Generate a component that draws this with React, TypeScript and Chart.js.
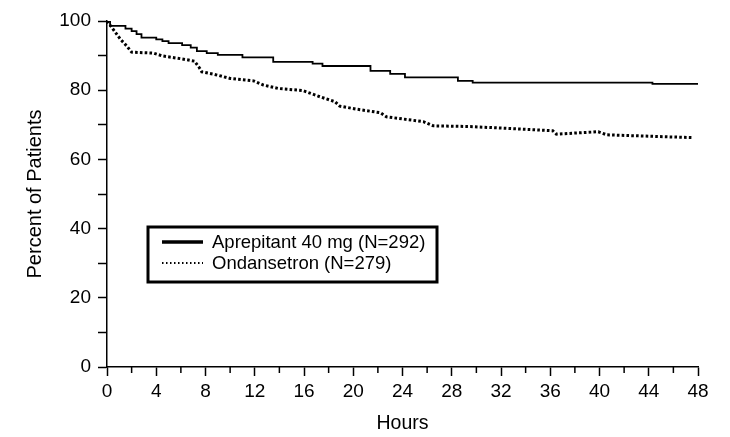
import React, { useEffect, useRef } from "react";
import { Chart, registerables } from "chart.js";

Chart.register(...registerables);

// Data
const aprepitantLabel = "Aprepitant 40 mg (N=292)";
const aprepitantHours = [0, 0.25, 1.5, 2.0, 2.4, 2.8, 4.0, 4.5, 5.0, 6.1, 6.8, 7.3, 8.1, 9.0, 11.0, 13.5, 16.7, 17.5, 21.4, 23.0, 24.2, 28.5, 29.7, 44.3, 48];
const aprepitantPct = [100, 98.6, 97.8, 97.1, 96.2, 95.2, 94.7, 94.2, 93.6, 93.0, 92.3, 91.3, 90.7, 90.2, 89.5, 88.2, 87.7, 87.0, 85.6, 84.7, 83.7, 82.7, 82.2, 81.8, 81.8];

const ondansetronLabel = "Ondansetron (N=279)";
const ondansetronHours = [0, 0.6, 1.1, 1.6, 2.0, 3.8, 4.5, 6.0, 7.1, 7.5, 7.7, 8.7, 10.0, 11.9, 12.7, 13.9, 15.9, 17.3, 18.5, 18.9, 20.3, 22.2, 22.7, 25.7, 26.5, 29.5, 36.2, 36.5, 39.9, 40.6, 47.5];
const ondansetronPct = [100, 97.1, 94.7, 92.8, 91.0, 90.7, 89.9, 89.1, 88.4, 86.5, 85.3, 84.6, 83.4, 82.7, 81.5, 80.5, 79.9, 78.1, 76.7, 75.4, 74.5, 73.5, 72.3, 70.9, 69.7, 69.5, 68.3, 67.3, 68.0, 67.1, 66.3];

const xTickStep = 2;
const xLabelStep = 4;
const yTickStep = 10;
const yLabelStep = 20;
const xTitle = "Hours";
const yTitle = "Percent of Patients";

const FONT = "Arial, 'Liberation Sans', Helvetica, sans-serif";

const minorTickPlugin = {
  id: "minorTicks",
  afterDraw(chart: any) {
    const ctx = chart.ctx;
    const xs = chart.scales.x;
    const y0 = chart.chartArea.bottom;
    ctx.save();
    ctx.strokeStyle = "#000";
    ctx.lineWidth = 1.5;
    xs.ticks.forEach((t: any) => {
      if (t.value % xLabelStep !== 0) {
        const px = xs.getPixelForValue(t.value);
        ctx.beginPath();
        ctx.moveTo(px, y0);
        ctx.lineTo(px, y0 + 6);
        ctx.stroke();
      }
    });
    ctx.restore();
  },
};

const boxLegendPlugin = {
  id: "boxLegend",
  afterDraw(chart: any) {
    const ctx = chart.ctx;
    const ds = chart.data.datasets;
    const left = 148, top = 227, right = 437, bottom = 282;
    ctx.save();
    ctx.fillStyle = "#fff";
    ctx.fillRect(left, top, right - left, bottom - top);
    ctx.strokeStyle = "#000";
    ctx.lineWidth = 3;
    ctx.strokeRect(left, top, right - left, bottom - top);
    const rows = [242, 263];
    ds.forEach((d: any, i: number) => {
      const y = rows[i];
      ctx.beginPath();
      ctx.strokeStyle = "#000";
      if (d.borderDash && d.borderDash.length) {
        ctx.lineWidth = 2;
        ctx.setLineDash([1.5, 2.5]);
      } else {
        ctx.lineWidth = 3.5;
        ctx.setLineDash([]);
      }
      ctx.moveTo(162, y);
      ctx.lineTo(203, y);
      ctx.stroke();
      ctx.setLineDash([]);
      ctx.fillStyle = "#000";
      ctx.font = `18.5px ${FONT}`;
      ctx.textBaseline = "middle";
      ctx.textAlign = "left";
      ctx.fillText(d.label, 212, y + 1);
    });
    ctx.restore();
  },
};

export default function App() {
  const canvasRef = useRef<HTMLCanvasElement | null>(null);

  useEffect(() => {
    const canvas = canvasRef.current;
    if (!canvas) return;
    const chart = new Chart(canvas, {
      type: "line",
      data: {
        datasets: [
          {
            label: aprepitantLabel,
            data: aprepitantHours.map((h, i) => ({ x: h, y: aprepitantPct[i] })),
            borderColor: "#000",
            borderWidth: 1.8,
            pointRadius: 0,
            stepped: true,
            fill: false,
          },
          {
            label: ondansetronLabel,
            data: ondansetronHours.map((h, i) => ({ x: h, y: ondansetronPct[i] })),
            borderColor: "#000",
            borderWidth: 3,
            borderDash: [2.6, 2.2],
            borderCapStyle: "butt",
            pointRadius: 0,
            tension: 0,
            fill: false,
          },
        ],
      },
      options: {
        animation: false,
        responsive: false,
        devicePixelRatio: 1,
        layout: { padding: { left: 0, top: 21, right: 32, bottom: 0 } },
        plugins: {
          legend: { display: false },
          tooltip: { enabled: false },
        },
        scales: {
          x: {
            type: "linear",
            position: "bottom",
            min: 0,
            max: 48,
            ticks: {
              stepSize: xTickStep,
              autoSkip: false,
              maxRotation: 0,
              color: "#000",
              font: { family: FONT, size: 19 },
              padding: 4,
              callback: (v: any) => (Number(v) % xLabelStep === 0 ? String(v) : ""),
            },
            grid: {
              display: true,
              drawOnChartArea: false,
              drawTicks: true,
              tickLength: 9,
              tickWidth: 1.5,
              tickColor: (c: any) => (c.tick && c.tick.value % xLabelStep === 0 ? "#000" : "rgba(0,0,0,0)"),
            },
            border: { display: true, color: "#000", width: 1.5 },
            title: {
              display: true,
              text: xTitle,
              color: "#000",
              font: { family: FONT, size: 19.5 },
              padding: { top: 0, bottom: 2 },
            },
            afterFit: (s: any) => {
              s.height = 70;
            },
          },
          y: {
            min: 0,
            max: 100,
            ticks: {
              stepSize: yTickStep,
              autoSkip: false,
              color: "#000",
              font: { family: FONT, size: 19 },
              padding: 7,
              callback: (v: any) => (Number(v) % yLabelStep === 0 ? String(v) : ""),
            },
            grid: {
              display: true,
              drawOnChartArea: false,
              drawTicks: true,
              tickLength: 9,
              tickWidth: 1.5,
              tickColor: "#000",
            },
            border: { display: true, color: "#000", width: 1.5 },
            title: {
              display: true,
              text: yTitle,
              color: "#000",
              font: { family: FONT, size: 20 },
              padding: { top: 23, bottom: 0 },
            },
            afterFit: (s: any) => {
              s.width = 107;
            },
          },
        },
      },
      plugins: [minorTickPlugin, boxLegendPlugin],
    } as any);
    return () => chart.destroy();
  }, []);

  return (
    <div style={{ position: "fixed", left: 0, top: 0, width: 730, height: 437, background: "#fff" }}>
      <canvas ref={canvasRef} width={730} height={437} style={{ width: 730, height: 437, display: "block" }} />
    </div>
  );
}
